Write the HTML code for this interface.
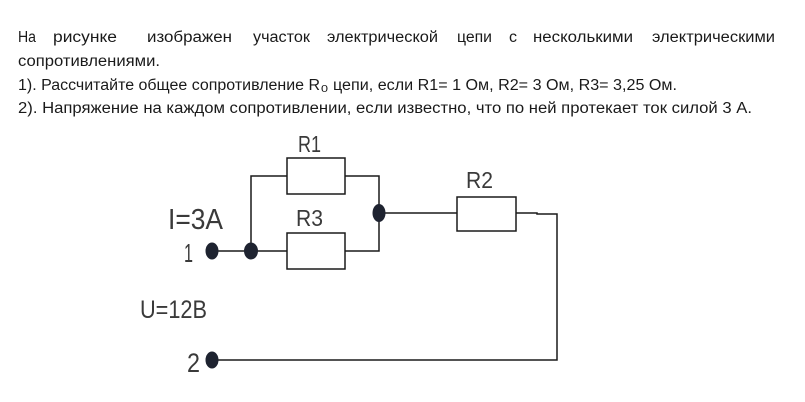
<!DOCTYPE html>
<html>
<head>
<meta charset="utf-8">
<style>
  html,body{margin:0;padding:0;background:#fff;}
  body{width:805px;height:402px;overflow:hidden;}
  svg{display:block;}
  .t{font-family:"Liberation Sans Narrow","Liberation Sans","DejaVu Sans",sans-serif;font-size:15.5px;fill:#1a1a1a;}
  .c{font-family:"DejaVu Sans ExtraLight","Liberation Sans","DejaVu Sans",sans-serif;font-weight:200;fill:#3a3a3a;}
</style>
</head>
<body>
<svg width="805" height="402" viewBox="0 0 805 402" xmlns="http://www.w3.org/2000/svg">
  <rect width="805" height="402" fill="#fff"/>
  <g class="t">
    <!-- Line 1 (justified) -->
    <text x="18" y="42" textLength="18" lengthAdjust="spacingAndGlyphs">На</text>
    <text x="53" y="42" textLength="64" lengthAdjust="spacingAndGlyphs">рисунке</text>
    <text x="147" y="42" textLength="85" lengthAdjust="spacingAndGlyphs">изображен</text>
    <text x="253" y="42" textLength="57" lengthAdjust="spacingAndGlyphs">участок</text>
    <text x="327" y="42" textLength="111" lengthAdjust="spacingAndGlyphs">электрической</text>
    <text x="457" y="42" textLength="35" lengthAdjust="spacingAndGlyphs">цепи</text>
    <text x="509" y="42" textLength="8" lengthAdjust="spacingAndGlyphs">с</text>
    <text x="533" y="42" textLength="100" lengthAdjust="spacingAndGlyphs">несколькими</text>
    <text x="652" y="42" textLength="123" lengthAdjust="spacingAndGlyphs">электрическими</text>
    <!-- Line 2 -->
    <text x="18" y="66" textLength="142" lengthAdjust="spacingAndGlyphs">сопротивлениями.</text>
    <!-- Line 3 -->
    <text x="18" y="90" textLength="302" lengthAdjust="spacingAndGlyphs">1). Рассчитайте общее сопротивление R</text>
    <text x="321" y="92" style="font-size:10px" textLength="7" lengthAdjust="spacingAndGlyphs">0</text>
    <text x="333" y="90" textLength="344" lengthAdjust="spacingAndGlyphs">цепи, если R1= 1 Ом, R2= 3 Ом, R3= 3,25 Ом.</text>
    <!-- Line 4 -->
    <text x="18" y="113" textLength="734" lengthAdjust="spacingAndGlyphs">2). Напряжение на каждом сопротивлении, если известно, что по ней протекает ток силой 3 А.</text>
  </g>

  <!-- Circuit wires -->
  <g fill="none" stroke="#1a1a1a" stroke-width="1.5">
    <path d="M251 251 V176 H287"/>
    <path d="M345 176 H379 V251 H345"/>
    <path d="M212 251 H287"/>
    <path d="M379 213 H457"/>
    <path d="M516 213 H537 V214 H557 V360 H212"/>
    <rect x="287" y="158" width="58" height="36"/>
    <rect x="287" y="233" width="58" height="36"/>
    <rect x="457" y="197" width="59" height="34"/>
  </g>

  <!-- Nodes -->
  <g fill="#1e2330">
    <ellipse cx="212" cy="251" rx="6.5" ry="8.5"/>
    <ellipse cx="251" cy="251" rx="7" ry="8.5"/>
    <ellipse cx="379" cy="213" rx="6.5" ry="9"/>
    <ellipse cx="212" cy="360" rx="6.5" ry="8.5"/>
  </g>

  <!-- Circuit labels -->
  <g class="c">
    <text x="298" y="152" style="font-size:23px" textLength="23" lengthAdjust="spacingAndGlyphs">R1</text>
    <text x="296" y="226" style="font-size:23px" textLength="27" lengthAdjust="spacingAndGlyphs">R3</text>
    <text x="466" y="188" style="font-size:23px" textLength="27" lengthAdjust="spacingAndGlyphs">R2</text>
    <text x="168" y="229" style="font-size:29px" textLength="55" lengthAdjust="spacingAndGlyphs">I=3A</text>
    <text x="184" y="262" style="font-size:26px" textLength="9" lengthAdjust="spacingAndGlyphs">1</text>
    <text x="140" y="318" style="font-size:25px" textLength="67" lengthAdjust="spacingAndGlyphs">U=12B</text>
    <text x="187" y="372" style="font-size:27px" textLength="13" lengthAdjust="spacingAndGlyphs">2</text>
  </g>
</svg>
</body>
</html>
